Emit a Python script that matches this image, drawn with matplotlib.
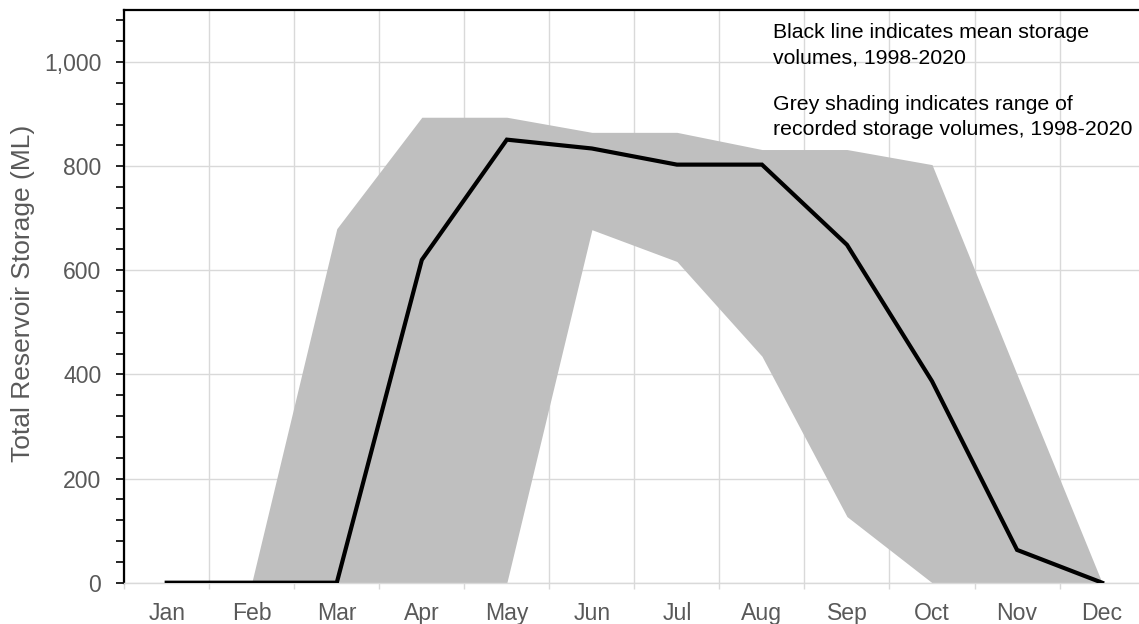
import matplotlib
matplotlib.use("Agg")
import matplotlib.pyplot as plt
import numpy as np
from matplotlib.ticker import MultipleLocator, FuncFormatter, FixedLocator

months = ['Jan', 'Feb', 'Mar', 'Apr', 'May', 'Jun', 'Jul', 'Aug', 'Sep', 'Oct', 'Nov', 'Dec']
mean_storage = [0, 0, 0, 620, 851, 834, 803, 803, 649, 387, 63, 0]
max_storage = [0, 0, 680, 894, 894, 865, 865, 832, 832, 803, 400, 0]
min_storage = [0, 0, 0, 0, 0, 678, 617, 435, 127, 0, 0, 0]

plt.rcParams['font.family'] = ['Liberation Sans', 'DejaVu Sans']

W, H = 1139, 624
fig = plt.figure(figsize=(W / 100, H / 100), dpi=100)
left_px, right_px, top_px, bottom_px = 124.2, 1144.6, 10.0, 582.7
ax = fig.add_axes([left_px / W, 1 - bottom_px / H, (right_px - left_px) / W, (bottom_px - top_px) / H])

x = np.arange(len(months))
ax.fill_between(x, min_storage, max_storage, color='#bfbfbf', linewidth=0, zorder=2)
ax.plot(x, mean_storage, color='black', linewidth=3, solid_joinstyle='miter', zorder=3)

ax.set_xlim(-0.5, len(months) - 0.5)
ax.set_ylim(0, 1100)

# y axis
ax.yaxis.set_major_locator(MultipleLocator(200))
ax.yaxis.set_minor_locator(MultipleLocator(40))
ax.yaxis.set_major_formatter(FuncFormatter(lambda v, p: f"{int(v):,}"))
ax.tick_params(axis='y', which='both', direction='out', length=5.5, width=1.2, color='black',
               labelsize=16.6, labelcolor='#595959', pad=11)
ax.set_ylabel('Total Reservoir Storage (ML)', fontsize=19, color='#595959')
ax.yaxis.set_label_coords((35 - left_px) / (right_px - left_px), 0.506)

# x axis: labels at category centres, ticks at boundaries
ax.xaxis.set_major_locator(FixedLocator(x))
ax.set_xticklabels(months)
ax.xaxis.set_minor_locator(FixedLocator(np.arange(-0.5, len(months), 1.0)))
ax.tick_params(axis='x', which='major', length=0, labelsize=16.6, labelcolor='#595959', pad=14)
ax.tick_params(axis='x', which='minor', length=4, width=1, color='#d9d9d9')

# grid
ax.set_axisbelow(True)
ax.grid(axis='y', which='major', color='#d9d9d9', linewidth=1)
ax.grid(axis='x', which='minor', color='#d9d9d9', linewidth=1)
ax.grid(axis='x', which='major', visible=False)

for s in ['left', 'top']:
    ax.spines[s].set_color('black')
    ax.spines[s].set_linewidth(1.6)
ax.spines['right'].set_visible(False)
ax.spines['bottom'].set_color('#d9d9d9')
ax.spines['bottom'].set_linewidth(1)

fig.text(773 / W, 1 - 23 / H, 'Black line indicates mean storage\nvolumes, 1998-2020',
         fontsize=15.3, color='black', va='top', ha='left', linespacing=1.42)
fig.text(773 / W, 1 - 95 / H, 'Grey shading indicates range of\nrecorded storage volumes, 1998-2020',
         fontsize=15.3, color='black', va='top', ha='left', linespacing=1.42)

fig.savefig('out.png', dpi=100)
